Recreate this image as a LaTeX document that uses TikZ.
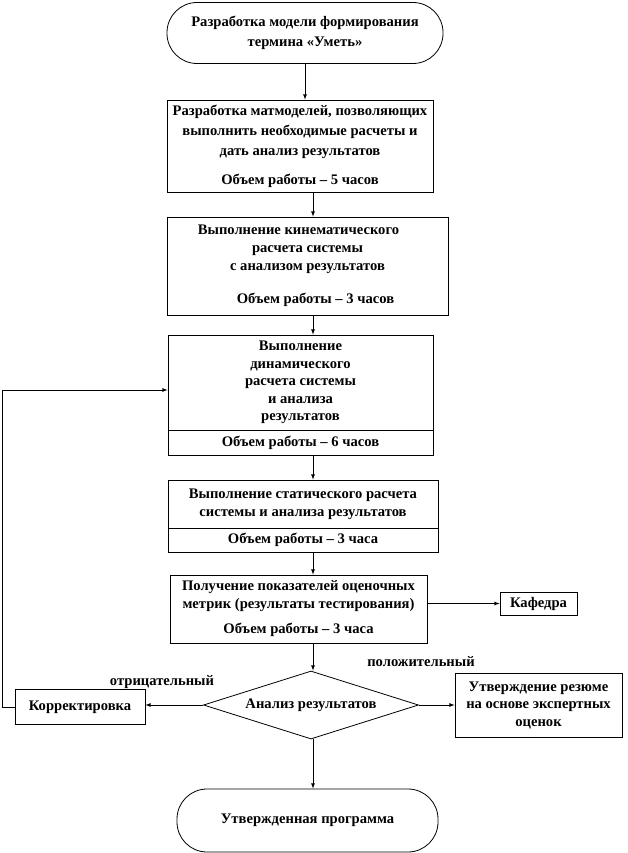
\documentclass[tikz,border=0pt]{standalone}
\usepackage{fontspec}
\setmainfont{Liberation Serif}
\usetikzlibrary{shapes.geometric}

\tikzset{
	>=latex,
	txt/.style={font=\bfseries\fontsize{14.6}{18}\selectfont},
	block/.style={txt,shape=rectangle,draw=black,align=center,inner sep=0pt,line width=0.8pt},
	term/.style={block,rounded corners=30pt},
	check/.style={txt,shape=diamond,draw=black,inner sep=0pt,aspect=3.16,line width=0.8pt},
	lbl/.style={txt,inner sep=0pt}
}

\begin{document}
\begin{tikzpicture}[x=1pt,y=-1pt,line width=0.8pt]
				\useasboundingbox (0,0) rectangle (627,853);
				\coordinate (axis) at (313,0);
				\coordinate (loop) at (2,390);
				
				\node[term,minimum width=276pt,minimum height=61pt] (start) at (305,33) {Разработка модели формирования\\[2pt]термина «Уметь»};
				\node[block,minimum width=266pt,minimum height=92pt] (matmod) at (300,146) {Разработка матмоделей, позволяющих\\[2pt]выполнить необходимые расчеты и\\[2pt]дать анализ результатов\\[11pt]Объем работы – 5 часов};
				\node[block,minimum width=281pt,minimum height=98pt] (kinem) at (307.5,266) {Выполнение кинематического\hspace*{18pt}\\расчета системы\hspace*{18pt}\\с анализом результатов\hspace*{18pt}\\[15pt]\hspace*{16pt}Объем работы – 3 часов};
				\node[block,minimum width=265pt,minimum height=95pt] (dinam) at (300.5,382.5) {Выполнение\\[-0.5pt]динамического\\[-0.5pt]расчета системы\\[-0.5pt]и анализа\\[-0.5pt]результатов};
				\node[block,minimum width=265pt,minimum height=25pt] (dinamvol) at (300.5,442.5) {Объем работы – 6 часов};
				\node[block,minimum width=270pt,minimum height=48pt] (stat) at (303,504) {Выполнение статического расчета\\системы и анализа результатов};
				\node[block,minimum width=270pt,minimum height=24pt] (statvol) at (303,540) {Объем работы – 3 часа};
				\node[block,minimum width=257pt,minimum height=68pt] (metr) at (298.5,609) {Получение показателей оценочных\\метрик (результаты тестирования)\\[7pt]Объем работы – 3 часа};
				\node[block,minimum width=77pt,minimum height=23pt] (kaf) at (538.5,603.5) {Кафедра};
				\node[check,minimum width=215pt,minimum height=68pt] (dia) at (311,705) {Анализ результатов};
				\node[block,minimum width=130pt,minimum height=35pt] (korr) at (80,707) {Корректировка};
				\node[block,minimum width=167pt,minimum height=64pt] (utv) at (538.5,705) {Утверждение резюме\\[-0.5pt]на основе экспертных\\[-0.5pt]оценок};
				\node[term,minimum width=261pt,minimum height=63pt] (finish) at (307.5,820.5) {Утвержденная программа};
				
				\node[lbl] (neg) at (162,682) {отрицательный};
				\node[lbl] (pos) at (421,662) {положительный};
				
				\path [->](start.south) edge (start.south |- matmod.north);
				\path [->](matmod.south -| axis) edge (kinem.north -| axis);
				\path [->](kinem.south -| axis) edge (dinam.north -| axis);
				\path [->](dinamvol.south -| axis) edge (stat.north -| axis);
				\path [->](statvol.south -| axis) edge (metr.north -| axis);
				\path [->](metr.south -| axis) edge (dia.north -| axis);
				\path [->](metr.east |- kaf.west) edge (kaf.west);
				\path [->](dia.west) edge (dia.west -| korr.east);
				\path [->](dia.east) edge (dia.east -| utv.west);
				\path [->](dia.south -| axis) edge (finish.north -| axis);
				\draw [->](korr.west) -| (loop) -- (loop -| dinam.west);
			\end{tikzpicture}
\end{document}
